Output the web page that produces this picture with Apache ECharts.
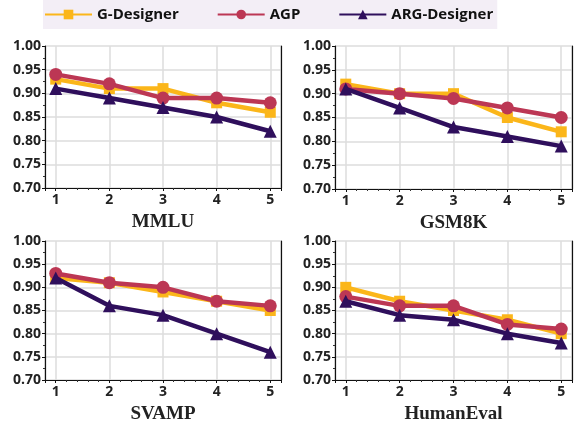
<!DOCTYPE html>
<html>
<head>
<meta charset="utf-8">
<script src="https://cdn.jsdelivr.net/npm/echarts@6/dist/echarts.min.js"></script>
<style>
  html, body { margin: 0; padding: 0; background: #fff; }
  #chart { width: 575px; height: 425px; }
</style>
</head>
<body>
<div id="chart"></div>
<script>
// data
var steps = [1, 2, 3, 4, 5];
var panels = ["MMLU", "GSM8K", "SVAMP", "HumanEval"];
var seriesNames = ["G-Designer", "AGP", "ARG-Designer"];
var yTicks = [0.7, 0.75, 0.8, 0.85, 0.9, 0.95, 1.0];

var gDesigner = [
  [0.93, 0.91, 0.91, 0.88, 0.86],
  [0.92, 0.90, 0.90, 0.85, 0.82],
  [0.92, 0.91, 0.89, 0.87, 0.85],
  [0.90, 0.87, 0.85, 0.83, 0.80]
];
var agp = [
  [0.94, 0.92, 0.89, 0.89, 0.88],
  [0.91, 0.90, 0.89, 0.87, 0.85],
  [0.93, 0.91, 0.90, 0.87, 0.86],
  [0.88, 0.86, 0.86, 0.82, 0.81]
];
var argDesigner = [
  [0.91, 0.89, 0.87, 0.85, 0.82],
  [0.91, 0.87, 0.83, 0.81, 0.79],
  [0.92, 0.86, 0.84, 0.80, 0.76],
  [0.87, 0.84, 0.83, 0.80, 0.78]
];

var colors = ["#fbb61a", "#bc3754", "#2f0f5c"];
var symbols = ["rect", "circle", "triangle"];
var symbolSizes = [11, 13, 13];
var allData = [gDesigner, agp, argDesigner];

var gridBoxes = [
  { left: 45, top: 46, width: 236, height: 142 },
  { left: 335, top: 46, width: 237, height: 143 },
  { left: 45, top: 241, width: 236, height: 143 },
  { left: 335, top: 241, width: 237, height: 143 }
];

var labelFont = {
  fontFamily: "Open Sans",
  fontWeight: "bold",
  fontSize: 14,
  color: "#222"
};

var grids = [], xAxes = [], yAxes = [], series = [];

panels.forEach(function (name, p) {
  grids.push(gridBoxes[p]);

  xAxes.push({
    gridIndex: p,
    type: "value",
    min: 0.8,
    max: 5.2,
    splitNumber: 4,
    name: name,
    nameLocation: "middle",
    nameGap: 25,
    nameTextStyle: {
      fontFamily: "Liberation Serif",
      fontWeight: "bold",
      fontSize: 19,
      color: "#222"
    },
    axisLine: { show: true, onZero: false, lineStyle: { color: "#111", width: 1.2 } },
    axisTick: { show: true, length: 3, lineStyle: { color: "#111" } },
    minorTick: { show: true, splitNumber: 5, length: 2, lineStyle: { color: "#333" } },
    splitLine: { show: true, lineStyle: { color: "#dcdcdc", width: 1.5 } },
    axisLabel: Object.assign({
      margin: 5,
      showMinLabel: false,
      showMaxLabel: false
    }, labelFont)
  });

  yAxes.push({
    gridIndex: p,
    type: "value",
    min: yTicks[0],
    max: yTicks[yTicks.length - 1],
    interval: 0.05,
    axisLine: { show: true, lineStyle: { color: "#111", width: 1.2 } },
    axisTick: { show: true, length: 3, lineStyle: { color: "#111" } },
    minorTick: { show: true, splitNumber: 2, length: 2, lineStyle: { color: "#333" } },
    splitLine: { show: true, lineStyle: { color: "#dcdcdc", width: 1.5 } },
    axisLabel: Object.assign({
      margin: 4,
      formatter: function (v) { return v.toFixed(2); }
    }, labelFont)
  });

  // right border of the box
  yAxes.push({
    gridIndex: p,
    type: "value",
    position: "right",
    min: yTicks[0],
    max: yTicks[yTicks.length - 1],
    axisLine: { show: true, lineStyle: { color: "#111", width: 1.2 } },
    axisTick: { show: false },
    axisLabel: { show: false },
    splitLine: { show: false }
  });

  seriesNames.forEach(function (sName, s) {
    series.push({
      name: sName,
      type: "line",
      xAxisIndex: p,
      yAxisIndex: p * 2,
      data: steps.map(function (x, i) { return [x, allData[s][p][i]]; }),
      symbol: symbols[s],
      symbolSize: symbolSizes[s],
      showAllSymbol: true,
      lineStyle: { color: colors[s], width: 4.5 },
      itemStyle: { color: colors[s] },
      z: 2 + s,
      animation: false
    });
  });
});

var chart = echarts.init(document.getElementById("chart"));
chart.setOption({
  backgroundColor: "#fff",
  legend: {
    data: seriesNames,
    left: 43,
    top: 0,
    padding: [7, 4, 7, 1],
    backgroundColor: "#f3eef6",
    itemWidth: 47,
    itemHeight: 12,
    itemGap: 38,
    textStyle: {
      fontFamily: "Open Sans",
      fontWeight: "bold",
      fontSize: 15,
      color: "#111"
    }
  },
  grid: grids,
  xAxis: xAxes,
  yAxis: yAxes,
  series: series
});
</script>
</body>
</html>
